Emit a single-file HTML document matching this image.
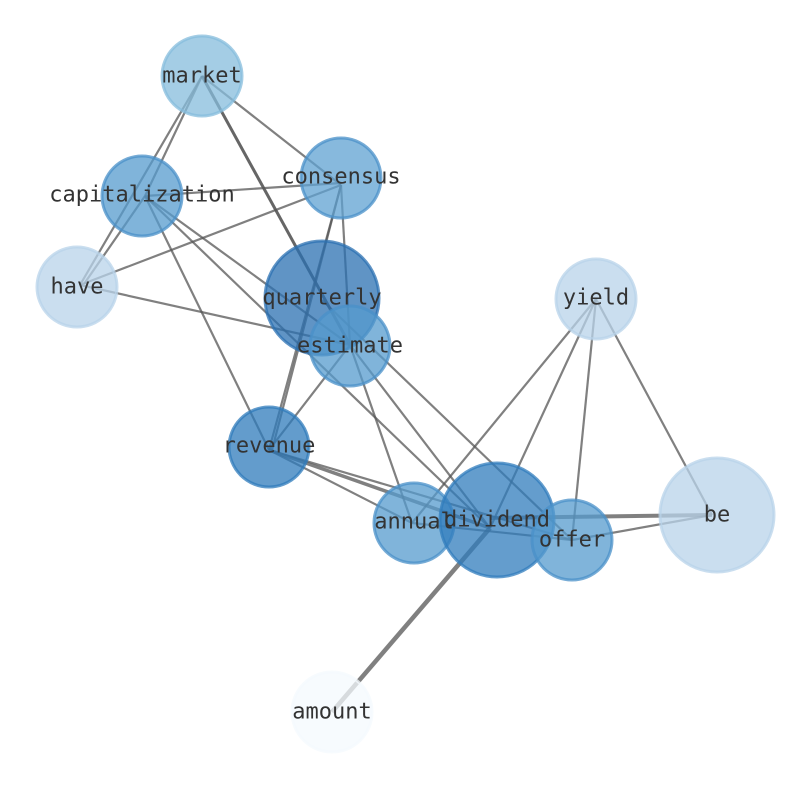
<!DOCTYPE html>
<html><head><style>html,body{margin:0;padding:0;background:#fff}</style></head>
<body>
<svg width="794" height="790" viewBox="0 0 794 790" xmlns="http://www.w3.org/2000/svg">
<g stroke="#555" stroke-opacity="0.75" stroke-width="2.2" fill="none">
<line x1="202" y1="76" x2="80" y2="285"/>
<line x1="202" y1="76" x2="145" y2="196"/>
<line x1="145" y1="196" x2="84" y2="284"/>
<line x1="202" y1="76" x2="341" y2="185"/>
<line x1="202" y1="76" x2="350" y2="345" stroke-width="3" stroke="#333"/>
<line x1="145" y1="196" x2="341" y2="183"/>
<line x1="341" y1="185" x2="80" y2="285"/>
<line x1="145" y1="196" x2="350" y2="345"/>
<line x1="145" y1="196" x2="490" y2="528"/>
<line x1="145" y1="196" x2="269" y2="450"/>
<line x1="80" y1="285" x2="350" y2="345"/>
<line x1="341" y1="185" x2="269" y2="450"/>
<line x1="341" y1="185" x2="272" y2="450"/>
<line x1="341" y1="185" x2="350" y2="345"/>
<line x1="350" y1="345" x2="269" y2="450"/>
<line x1="350" y1="345" x2="412" y2="523"/>
<line x1="350" y1="345" x2="490" y2="528"/>
<line x1="322" y1="300" x2="572" y2="540"/>
<line x1="269" y1="450" x2="490" y2="528" stroke-width="3.5"/>
<line x1="269" y1="450" x2="412" y2="523"/>
<line x1="269" y1="450" x2="572" y2="540"/>
<line x1="596" y1="299" x2="412" y2="523"/>
<line x1="596" y1="299" x2="490" y2="528"/>
<line x1="596" y1="299" x2="572" y2="540"/>
<line x1="596" y1="299" x2="712" y2="515"/>
<line x1="490" y1="518" x2="712" y2="515" stroke-width="4"/>
<line x1="572" y1="540" x2="712" y2="515"/>
<line x1="412" y1="523" x2="572" y2="540"/>
<line x1="490" y1="528" x2="332" y2="712" stroke-width="4.5"/>
</g>
<g stroke-width="3" fill-opacity="0.75" stroke-opacity="0.75">
<circle cx="202" cy="76" r="40" fill="#85bcdc" stroke="#85bcdc"/>
<circle cx="341" cy="178" r="40" fill="#5fa2d2" stroke="#4a90c8"/>
<circle cx="142" cy="196" r="40" fill="#559bcd" stroke="#4a90c8"/>
<circle cx="77" cy="287" r="40" fill="#b8d3ea" stroke="#b8d3ea"/>
<circle cx="322" cy="298" r="57" fill="#2b70b2" stroke="#2b70b2"/>
<circle cx="350" cy="346" r="40" fill="#559bcd" stroke="#4a90c8"/>
<circle cx="596" cy="299" r="40" fill="#b8d3ea" stroke="#b8d3ea"/>
<circle cx="269" cy="447" r="40" fill="#2f7bbb" stroke="#2f7bbb"/>
<circle cx="414" cy="523" r="40" fill="#559bcd" stroke="#4a90c8"/>
<circle cx="497" cy="520" r="57" fill="#307cbc" stroke="#307cbc"/>
<circle cx="572" cy="540" r="40" fill="#559bcd" stroke="#4a90c8"/>
<circle cx="717" cy="515" r="57" fill="#b8d3ea" stroke="#b8d3ea"/>
<circle cx="332" cy="712" r="40" fill="#f4f9fe" stroke="#f4f9fe"/>
</g>
<g font-family="'DejaVu Sans Mono','Liberation Mono',monospace" font-size="22" fill="#333" text-anchor="middle" dominant-baseline="central">
<text x="202" y="76">market</text>
<text x="341" y="177">consensus</text>
<text x="142" y="195">capitalization</text>
<text x="77" y="287">have</text>
<text x="322" y="298">quarterly</text>
<text x="350" y="346">estimate</text>
<text x="596" y="298">yield</text>
<text x="269" y="446">revenue</text>
<text x="414" y="522">annual</text>
<text x="497" y="520">dividend</text>
<text x="572" y="540">offer</text>
<text x="717" y="515">be</text>
<text x="332" y="712">amount</text>
</g>
</svg>
</body></html>
